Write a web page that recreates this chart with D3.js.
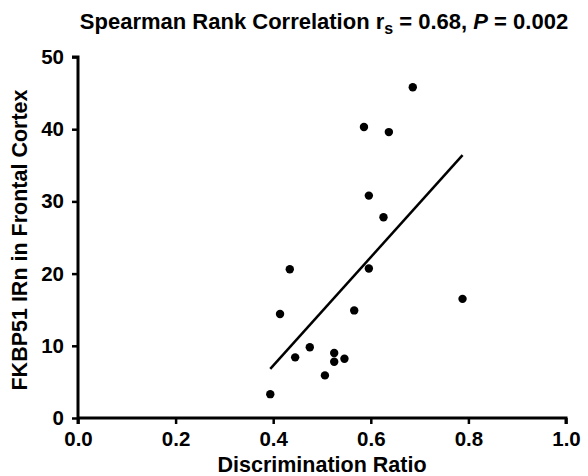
<!DOCTYPE html>
<html><head><meta charset="utf-8">
<script src="https://cdn.jsdelivr.net/npm/d3@7"></script>
<style>body{margin:0;background:#fff}svg text{font-family:"Liberation Sans",Arial,sans-serif;font-weight:bold;fill:#000}</style>
</head><body>
<svg id="c" width="588" height="476"></svg>
<script>
const xValues = [0.686,0.586,0.637,0.596,0.626,0.434,0.596,0.414,0.566,0.445,0.475,0.525,0.525,0.546,0.506,0.394,0.788];
const yValues = [45.8,40.3,39.6,30.8,27.8,20.6,20.7,14.4,14.9,8.4,9.8,9.0,7.8,8.2,5.9,3.3,16.5];
const fitX = [0.394,0.788];
const fitY = [6.8,36.4];
const xTicks = [0,0.2,0.4,0.6,0.8,1.0];
const yTicks = [0,10,20,30,40,50];

const svg = d3.select("#c");
const x = d3.scaleLinear().domain([0,1]).range([78,566]);
const y = d3.scaleLinear().domain([0,50]).range([418,57]);

const xa = svg.append("g").attr("transform","translate(0,418)")
  .call(d3.axisBottom(x).tickValues(xTicks).tickFormat(d3.format(".1f")).tickSize(6).tickPadding(7));
const ya = svg.append("g").attr("transform","translate(78,0)")
  .call(d3.axisLeft(y).tickValues(yTicks).tickFormat(d3.format("d")).tickSize(6).tickPadding(8));
[xa,ya].forEach(a=>{
  a.select(".domain").attr("stroke","#000").attr("stroke-width",3);
  a.selectAll(".tick line").attr("stroke","#000").attr("stroke-width",2.5);
  a.selectAll(".tick text").style("font-size","20.5px").style("font-weight","bold").attr("fill","#000");
});
ya.select(".domain").attr("d","M-6,"+y(50)+"H0V"+(y(0)+6));
xa.select(".domain").attr("d","M"+x(0)+",0H"+x(1)+"V6");

svg.append("line").attr("x1",x(fitX[0])).attr("y1",y(fitY[0])).attr("x2",x(fitX[1])).attr("y2",y(fitY[1]))
  .attr("stroke","#000").attr("stroke-width",2.5);

svg.selectAll("circle.p").data(xValues.map((v,i)=>[v,yValues[i]])).enter().append("circle")
  .attr("cx",d=>x(d[0])).attr("cy",d=>y(d[1])).attr("r",4.2).attr("fill","#000");

const t = svg.append("text").attr("x",324).attr("y",29).attr("text-anchor","middle").style("font-size","22px");
t.append("tspan").text("Spearman Rank Correlation r");
t.append("tspan").attr("dy",5).style("font-size","16px").text("s");
t.append("tspan").attr("dy",-5).text(" = 0.68, ");
t.append("tspan").style("font-style","italic").text("P");
t.append("tspan").text(" = 0.002");

svg.append("text").attr("x",322).attr("y",472).attr("text-anchor","middle").style("font-size","21.5px").text("Discrimination Ratio");
svg.append("text").attr("transform","translate(27,240) rotate(-90)").attr("text-anchor","middle").style("font-size","21.5px").text("FKBP51 IRn in Frontal Cortex");
</script>
</body></html>
